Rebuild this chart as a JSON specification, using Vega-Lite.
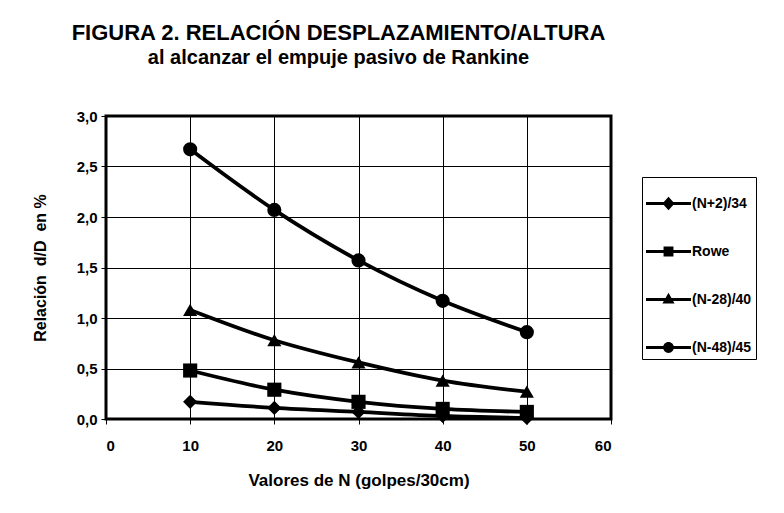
{
  "$schema": "https://vega.github.io/schema/vega-lite/v6.json",
  "width": 505,
  "height": 303,
  "autosize": {"type": "none"},
  "padding": {"left": 106, "top": 116, "right": 173, "bottom": 94},
  "background": "white",
  "title": {
    "text": "FIGURA 2. RELACIÓN DESPLAZAMIENTO/ALTURA",
    "subtitle": "al alcanzar el empuje pasivo de Rankine",
    "anchor": "middle",
    "frame": "group",
    "dx": -20,
    "font": "Liberation Sans, Arial, sans-serif",
    "subtitleFont": "Liberation Sans, Arial, sans-serif",
    "fontSize": 22,
    "subtitleFontSize": 20,
    "fontWeight": "bold",
    "subtitleFontWeight": "bold",
    "color": "black",
    "subtitleColor": "black",
    "offset": 40,
    "subtitlePadding": 3
  },
  "data": {
    "values": [
      {"N": 10, "serie": "(N+2)/34", "valor": 0.17},
      {"N": 20, "serie": "(N+2)/34", "valor": 0.11},
      {"N": 30, "serie": "(N+2)/34", "valor": 0.07},
      {"N": 40, "serie": "(N+2)/34", "valor": 0.03},
      {"N": 50, "serie": "(N+2)/34", "valor": 0.01},
      {"N": 10, "serie": "Rowe", "valor": 0.48},
      {"N": 20, "serie": "Rowe", "valor": 0.29},
      {"N": 30, "serie": "Rowe", "valor": 0.17},
      {"N": 40, "serie": "Rowe", "valor": 0.10},
      {"N": 50, "serie": "Rowe", "valor": 0.07},
      {"N": 10, "serie": "(N-28)/40", "valor": 1.08},
      {"N": 20, "serie": "(N-28)/40", "valor": 0.78},
      {"N": 30, "serie": "(N-28)/40", "valor": 0.56},
      {"N": 40, "serie": "(N-28)/40", "valor": 0.38},
      {"N": 50, "serie": "(N-28)/40", "valor": 0.27},
      {"N": 10, "serie": "(N-48)/45", "valor": 2.67},
      {"N": 20, "serie": "(N-48)/45", "valor": 2.07},
      {"N": 30, "serie": "(N-48)/45", "valor": 1.57},
      {"N": 40, "serie": "(N-48)/45", "valor": 1.17},
      {"N": 50, "serie": "(N-48)/45", "valor": 0.86}
    ]
  },
  "encoding": {
    "x": {
      "field": "N",
      "type": "quantitative",
      "scale": {"domain": [0, 60], "nice": false, "zero": false},
      "axis": {
        "values": [0, 10, 20, 30, 40, 50, 60],
        "title": "Valores de N (golpes/30cm)",
        "grid": true,
        "gridColor": "black",
        "gridOpacity": 1,
        "gridWidth": 1,
        "domain": false,
        "tickColor": "black",
        "tickSize": 5,
        "labelPadding": 14,
        "labelFont": "Liberation Sans, Arial, sans-serif",
        "labelFontSize": 15,
        "labelFontWeight": "bold",
        "labelColor": "black",
        "titleFont": "Liberation Sans, Arial, sans-serif",
        "titleFontSize": 17,
        "titleFontWeight": "bold",
        "titleColor": "black",
        "titlePadding": 19
      }
    },
    "y": {
      "field": "valor",
      "type": "quantitative",
      "scale": {"domain": [0, 3], "nice": false},
      "axis": {
        "values": [0, 0.5, 1, 1.5, 2, 2.5, 3],
        "labelExpr": "replace(format(datum.value, '.1f'), '.', ',')",
        "title": "Relación\u00a0\u00a0d/D\u00a0\u00a0en %",
        "grid": true,
        "gridColor": "black",
        "gridOpacity": 1,
        "gridWidth": 1,
        "domain": false,
        "tickColor": "black",
        "tickSize": 5,
        "labelPadding": 4,
        "labelFont": "Liberation Sans, Arial, sans-serif",
        "labelFontSize": 15,
        "labelFontWeight": "bold",
        "labelColor": "black",
        "titleFont": "Liberation Sans, Arial, sans-serif",
        "titleFontSize": 16,
        "titleFontWeight": "bold",
        "titleColor": "black",
        "titlePadding": 28
      }
    }
  },
  "layer": [
    {
      "mark": {"type": "line", "color": "black", "strokeWidth": 3.8, "interpolate": "monotone"},
      "encoding": {"detail": {"field": "serie", "type": "nominal"}}
    },
    {
      "mark": {"type": "point", "filled": true, "color": "black", "opacity": 1, "size": 200},
      "encoding": {
        "shape": {
          "field": "serie",
          "type": "nominal",
          "scale": {
            "domain": ["(N+2)/34", "Rowe", "(N-28)/40", "(N-48)/45"],
            "range": ["diamond", "square", "triangle-up", "circle"]
          },
          "legend": null
        }
      }
    },
    {
      "mark": {"type": "point", "filled": true, "color": "black", "opacity": 0},
      "encoding": {
        "shape": {
          "field": "serie",
          "type": "nominal",
          "scale": {
            "domain": ["(N+2)/34", "Rowe", "(N-28)/40", "(N-48)/45"],
            "range": [
              "M-1,-0.067H1V0.067H-1Z M0,-0.3L0.27,0L0,0.3L-0.27,0Z",
              "M-1,-0.067H1V0.067H-1Z M-0.22,-0.22H0.22V0.22H-0.22Z",
              "M-1,-0.067H1V0.067H-1Z M0,-0.3L0.27,0.18L-0.27,0.18Z",
              "M-1,-0.067H1V0.067H-1Z M-0.24,0A0.24,0.24 0 1,1 0.24,0A0.24,0.24 0 1,1 -0.24,0Z"
            ]
          },
          "legend": {
            "title": null,
            "orient": "none",
            "legendX": 536,
            "legendY": 61,
            "direction": "vertical",
            "symbolSize": 2025,
            "symbolStrokeWidth": 0,
            "symbolFillColor": "black",
            "symbolOpacity": 1,
            "strokeColor": "black",
            "padding": 4,
            "rowPadding": 18,
            "labelOffset": 1,
            "labelLimit": 0,
            "labelFont": "Liberation Sans, Arial, sans-serif",
            "labelFontSize": 14,
            "labelFontWeight": "bold",
            "labelColor": "black"
          }
        }
      }
    }
  ],
  "resolve": {"scale": {"shape": "independent"}},
  "config": {
    "view": {"stroke": "black", "strokeWidth": 3},
    "legend": {"strokeWidth": 1}
  }
}
